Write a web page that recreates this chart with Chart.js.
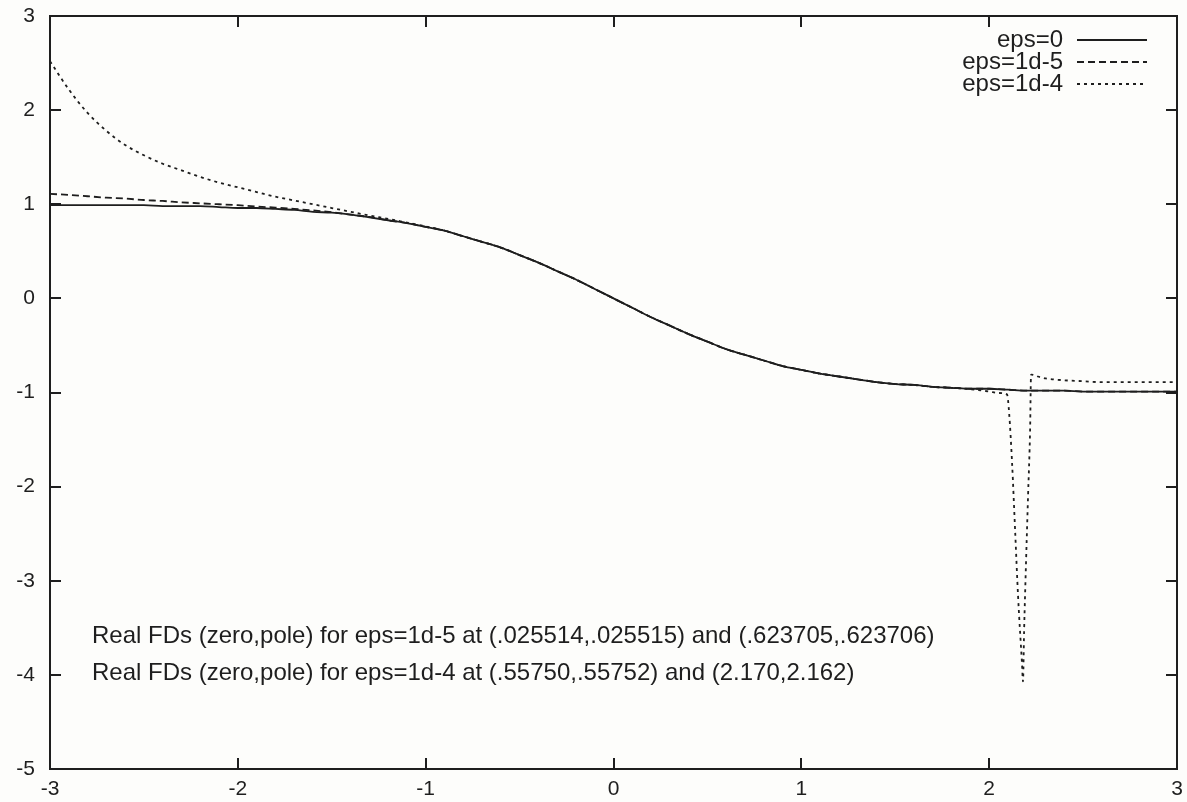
<!DOCTYPE html>
<html>
<head>
<meta charset="utf-8">
<title>eps</title>
<script src="https://cdn.jsdelivr.net/npm/chart.js@4/dist/chart.umd.min.js"></script>
<style>
  html, body { margin: 0; padding: 0; background: #fdfdfb; }
  canvas { display: block; }
</style>
</head>
<body>
<canvas id="grafico" width="1187" height="802"></canvas>
<script>
// tick values on both axes
const xTicks = [-3, -2, -1, 0, 1, 2, 3];
const yTicks = [-5, -4, -3, -2, -1, 0, 1, 2, 3];

// common x grid for eps=0 and eps=1d-5
const xGrid = [
    -3.0, -2.9, -2.8, -2.7, -2.6, -2.5, -2.4, -2.3, -2.2, -2.1,
    -2.0, -1.9, -1.8, -1.7, -1.6, -1.5, -1.4, -1.3, -1.2, -1.1,
    -1.0, -0.9, -0.8, -0.7, -0.6, -0.5, -0.4, -0.3, -0.2, -0.1,
     0.0,  0.1,  0.2,  0.3,  0.4,  0.5,  0.6,  0.7,  0.8,  0.9,
     1.0,  1.1,  1.2,  1.3,  1.4,  1.5,  1.6,  1.7,  1.8,  1.9,
     2.0,  2.1,  2.2,  2.3,  2.4,  2.5,  2.6,  2.7,  2.8,  2.9,
     3.0
];

const eps0 = [
    0.99, 0.99, 0.99, 0.99, 0.99, 0.99, 0.98, 0.98, 0.98, 0.97,
    0.96, 0.96, 0.95, 0.94, 0.92, 0.91, 0.89, 0.86, 0.83, 0.80,
    0.76, 0.72, 0.66, 0.60, 0.54, 0.46, 0.38, 0.29, 0.20, 0.10,
    0.00, -0.10, -0.20, -0.29, -0.38, -0.46, -0.54, -0.60, -0.66, -0.72,
    -0.76, -0.80, -0.83, -0.86, -0.89, -0.91, -0.92, -0.94, -0.95, -0.96,
    -0.96, -0.97, -0.98, -0.98, -0.98, -0.99, -0.99, -0.99, -0.99, -0.99,
    -0.99
];

const eps1d5 = [
    1.11, 1.10, 1.085, 1.07, 1.06, 1.045, 1.035, 1.02, 1.01, 1.00,
    0.99, 0.975, 0.965, 0.95, 0.935, 0.915, 0.89, 0.865, 0.83, 0.80,
    0.76, 0.72, 0.66, 0.60, 0.54, 0.46, 0.38, 0.29, 0.20, 0.10,
    0.00, -0.10, -0.20, -0.29, -0.38, -0.46, -0.54, -0.60, -0.66, -0.72,
    -0.76, -0.80, -0.83, -0.86, -0.89, -0.91, -0.92, -0.94, -0.95, -0.96,
    -0.96, -0.97, -0.98, -0.98, -0.98, -0.99, -0.99, -0.99, -0.99, -0.99,
    -0.99
];

// eps=1d-4 has its own (denser) x samples around the spike
const xEps1d4 = [
    -3.0, -2.9, -2.8, -2.7, -2.6, -2.5, -2.4, -2.3, -2.2, -2.1,
    -2.0, -1.9, -1.8, -1.7, -1.6, -1.5, -1.4, -1.3, -1.2, -1.1,
    -1.0, -0.9, -0.8, -0.7, -0.6, -0.5, -0.4, -0.3, -0.2, -0.1,
     0.0,  0.1,  0.2,  0.3,  0.4,  0.5,  0.6,  0.7,  0.8,  0.9,
     1.0,  1.1,  1.2,  1.3,  1.4,  1.5,  1.6,  1.7,  1.8,  1.9,
     2.0, 2.05, 2.095, 2.106, 2.122, 2.138, 2.154, 2.175, 2.18, 2.186,
     2.196, 2.207, 2.218, 2.223, 2.26, 2.3, 2.4, 2.5, 2.6, 2.8, 3.0
];
const eps1d4 = [
    2.52, 2.22, 1.97, 1.78, 1.63, 1.52, 1.43, 1.36, 1.29, 1.23,
    1.18, 1.13, 1.08, 1.04, 1.00, 0.96, 0.92, 0.88, 0.845, 0.805,
    0.765, 0.72, 0.66, 0.60, 0.54, 0.46, 0.38, 0.29, 0.20, 0.10,
    0.00, -0.10, -0.20, -0.29, -0.38, -0.46, -0.54, -0.60, -0.66, -0.72,
    -0.76, -0.80, -0.83, -0.86, -0.89, -0.91, -0.92, -0.94, -0.95, -0.965,
    -0.99, -1.005, -1.02, -1.21, -1.75, -2.46, -3.17, -3.89, -4.07, -3.53,
    -2.82, -2.10, -1.39, -0.81, -0.83, -0.85, -0.87, -0.88, -0.89, -0.89, -0.89
];

const notes = [
    "Real FDs (zero,pole) for eps=1d-5 at (.025514,.025515) and (.623705,.623706)",
    "Real FDs (zero,pole) for eps=1d-4 at (.55750,.55752) and (2.170,2.162)"
];

const INK = "#1e1e1e";
const FONT = "'Liberation Sans', Arial, sans-serif";

function pares(xs, ys) {
    return xs.map((x, i) => ({ x: x, y: ys[i] }));
}

// fundo, moldura com ticks para dentro, legenda e notas (estilo gnuplot)
const molduraPlugin = {
    id: "moldura",
    beforeDraw(chart) {
        const ctx = chart.ctx;
        ctx.save();
        ctx.fillStyle = "#fdfdfb";
        ctx.fillRect(0, 0, chart.width, chart.height);
        ctx.restore();
    },
    afterDraw(chart) {
        const ctx = chart.ctx;
        const a = chart.chartArea;
        const sx = chart.scales.x, sy = chart.scales.y;
        ctx.save();
        ctx.strokeStyle = INK;
        ctx.lineWidth = 2;
        ctx.strokeRect(a.left, a.top, a.right - a.left, a.bottom - a.top);

        const len = 11;
        ctx.beginPath();
        xTicks.forEach(v => {
            const px = Math.round(sx.getPixelForValue(v));
            ctx.moveTo(px, a.bottom); ctx.lineTo(px, a.bottom - len);
            ctx.moveTo(px, a.top); ctx.lineTo(px, a.top + len);
        });
        yTicks.forEach(v => {
            const py = Math.round(sy.getPixelForValue(v));
            ctx.moveTo(a.left, py); ctx.lineTo(a.left + len, py);
            ctx.moveTo(a.right, py); ctx.lineTo(a.right - len, py);
        });
        ctx.stroke();

        // legenda
        ctx.font = "24px " + FONT;
        ctx.fillStyle = INK;
        ctx.textAlign = "right";
        ctx.textBaseline = "middle";
        chart.data.datasets.forEach((ds, i) => {
            const y = a.top + 24 + i * 22;
            ctx.fillText(ds.label, a.right - 114, y);
            ctx.beginPath();
            ctx.setLineDash(ds.borderDash || []);
            ctx.lineWidth = ds.borderWidth;
            ctx.strokeStyle = ds.borderColor;
            ctx.moveTo(a.right - 100, y);
            ctx.lineTo(a.right - 30, y);
            ctx.stroke();
        });
        ctx.setLineDash([]);

        // notas
        ctx.textAlign = "left";
        ctx.textBaseline = "alphabetic";
        ctx.fillStyle = INK;
        ctx.font = "24px " + FONT;
        notes.forEach((t, i) => {
            ctx.fillText(t, a.left + 42, 643 + i * 37);
        });
        ctx.restore();
    }
};

function Init() {
    new Chart(document.getElementById("grafico").getContext("2d"), {
        type: "line",
        data: {
            datasets: [
                {
                    label: "eps=0",
                    data: pares(xGrid, eps0),
                    borderColor: INK,
                    borderWidth: 1.8,
                    borderDash: []
                },
                {
                    label: "eps=1d-5",
                    data: pares(xGrid, eps1d5),
                    borderColor: INK,
                    borderWidth: 1.8,
                    borderDash: [7, 4]
                },
                {
                    label: "eps=1d-4",
                    data: pares(xEps1d4, eps1d4),
                    borderColor: INK,
                    borderWidth: 1.8,
                    borderDash: [3, 4]
                }
            ]
        },
        options: {
            responsive: false,
            animation: false,
            devicePixelRatio: 1,
            cubicInterpolationMode: "monotone",
            elements: { point: { radius: 0 } },
            layout: { padding: { top: 16, right: 10, left: 0, bottom: 0 } },
            plugins: {
                legend: { display: false },
                tooltip: { enabled: false }
            },
            scales: {
                x: {
                    type: "linear",
                    min: -3,
                    max: 3,
                    grid: { display: false, drawTicks: false },
                    border: { display: false },
                    afterBuildTicks: axis => { axis.ticks = xTicks.map(v => ({ value: v })); },
                    afterFit: axis => {
                        axis.height = 33;
                        axis.paddingLeft = 0;
                        axis.paddingRight = 0;
                    },
                    ticks: {
                        autoSkip: false,
                        maxRotation: 0,
                        padding: 8,
                        color: INK,
                        font: { size: 21, family: FONT }
                    }
                },
                y: {
                    type: "linear",
                    min: -5,
                    max: 3,
                    grid: { display: false, drawTicks: false },
                    border: { display: false },
                    afterBuildTicks: axis => { axis.ticks = yTicks.map(v => ({ value: v })); },
                    afterFit: axis => {
                        axis.width = 50;
                        axis.paddingTop = 0;
                        axis.paddingBottom = 0;
                    },
                    ticks: {
                        autoSkip: false,
                        padding: 15,
                        color: INK,
                        font: { size: 21, family: FONT }
                    }
                }
            }
        },
        plugins: [molduraPlugin]
    });
}

Init();
</script>
</body>
</html>
